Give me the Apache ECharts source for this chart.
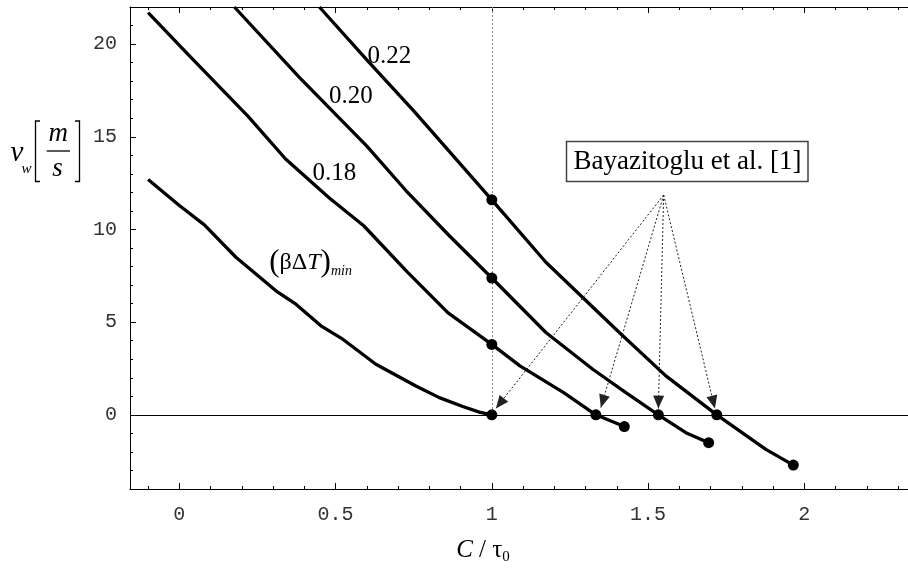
<!DOCTYPE html>
<html>
<head>
<meta charset="utf-8">
<script src="https://cdn.jsdelivr.net/npm/echarts@6/dist/echarts.min.js"></script>
<style>
  html, body { margin: 0; padding: 0; background: #fff; }
  #chart { width: 908px; height: 569px; }
</style>
</head>
<body>
<div id="chart"></div>
<script>
// Axis ranges and tick values
const X_MIN = -0.158, X_MAX = 2.332;
const Y_MIN = -4, Y_MAX = 22;
const xMajorTicks = [0, 0.5, 1, 1.5, 2];
const xMinorTicks = [-0.1, 0.1, 0.2, 0.3, 0.4, 0.6, 0.7, 0.8, 0.9, 1.1, 1.2, 1.3, 1.4, 1.6, 1.7, 1.8, 1.9, 2.1, 2.2, 2.3];
const yMajorTicks = [0, 5, 10, 15, 20];
const yMinorTicks = [-3, -2, -1, 1, 2, 3, 4, 6, 7, 8, 9, 11, 12, 13, 14, 16, 17, 18, 19, 21];

// Wall velocity v_w [m/s] against C/tau0
const curveMin = [[-0.1, 12.69], [0.0, 11.29], [0.08, 10.25], [0.181, 8.5], [0.309, 6.69],
  [0.373, 5.97], [0.453, 4.8], [0.523, 4.08], [0.629, 2.73], [0.757, 1.56], [0.832, 0.93], [0.907, 0.45],
  [0.96, 0.15], [1.0, 0.0]];
const curve018 = [[-0.1, 21.7], [0.03, 19.4], [0.22, 16.1], [0.34, 13.8], [0.48, 11.7], [0.59, 10.2],
  [0.73, 7.7], [0.86, 5.5], [1.0, 3.8], [1.09, 2.64], [1.23, 1.2], [1.333, 0.0], [1.424, -0.63]];
const curve020 = [[0.176, 22.0], [0.384, 18.2], [0.6, 14.5], [0.725, 12.1], [0.864, 9.66], [1.0, 7.38],
  [1.173, 4.44], [1.323, 2.46], [1.429, 1.2], [1.533, 0.0], [1.621, -0.96], [1.694, -1.5]];
const curve022 = [[0.448, 22.0], [0.608, 19.0], [0.75, 16.4], [1.0, 11.6], [1.173, 8.23], [1.408, 4.44],
  [1.557, 2.1], [1.72, 0.0], [1.877, -1.86], [1.965, -2.71]];

// Highlighted solution points
const markedPoints = [[1.0, 11.6], [1.0, 7.38], [1.0, 3.8], [1.0, 0.0], [1.333, 0.0], [1.533, 0.0],
  [1.72, 0.0], [1.424, -0.63], [1.694, -1.5], [1.965, -2.71]];

// Curve labels and where they sit (data units)
const curveLabelText = ['0.22', '0.20', '0.18', '{p|(}{g|βΔ}{t|T}{p|)}{s|min}'];
const curveLabelAt = [[0.672, 19.32], [0.549, 17.16], [0.496, 13.0], [0.42, 8.2]];

// Reference arrows: from below the caption box to the zero-velocity points
const arrowFrom = [1.55, 11.86];
const arrowTo = [[1.013, 0.34], [1.349, 0.39], [1.533, 0.34], [1.714, 0.34]];
const refCaption = 'Bayazitoglu et al. [1]';

const SERIF = '"Liberation Serif", "DejaVu Serif", serif';
const MONO = '"Liberation Mono", "DejaVu Sans Mono", monospace';

const gridBox = { left: 130, right: 0, top: 7, bottom: 80, containLabel: false };

function xAxisDef(grid, position, ticks, len, withLine, labels) {
  return {
    type: 'value', gridIndex: grid, position: position, min: X_MIN, max: X_MAX,
    axisLine: { show: withLine, onZero: false, lineStyle: { color: '#000', width: 1 } },
    axisTick: { show: true, inside: true, length: len, customValues: ticks, lineStyle: { color: '#000', width: 1 } },
    axisLabel: labels ? {
      show: true, customValues: xMajorTicks, margin: 16, fontFamily: MONO, fontSize: 20, color: '#333',
      formatter: v => String(v)
    } : { show: false },
    splitLine: { show: false }
  };
}
function yAxisDef(grid, ticks, len, withLine, labels) {
  return {
    type: 'value', gridIndex: grid, position: 'left', min: Y_MIN, max: Y_MAX,
    axisLine: { show: withLine, onZero: false, lineStyle: { color: '#000', width: 1 } },
    axisTick: { show: true, inside: true, length: len, customValues: ticks, lineStyle: { color: '#000', width: 1 } },
    axisLabel: labels ? {
      show: true, customValues: yMajorTicks, margin: 13, fontFamily: MONO, fontSize: 20, color: '#333',
      formatter: v => String(v)
    } : { show: false },
    splitLine: { show: false }
  };
}

const curveStyle = { color: '#000', width: 3.3, opacity: 1 };
function curveSeries(name, data) {
  return {
    name: name, type: 'line', xAxisIndex: 0, yAxisIndex: 0, data: data,
    showSymbol: false, symbol: 'none', smooth: false, silent: true,
    lineStyle: curveStyle, itemStyle: { color: '#000' }, z: 3
  };
}

const arrowLines = arrowTo.map(t => [
  { coord: arrowFrom, symbol: 'none', lineStyle: { color: '#222', width: 1, type: [2, 2] } },
  { coord: t, symbol: 'triangle', symbolSize: [11, 13], symbolOffset: [0, 6.5] }
]);

// Reference lines: zero axis, dotted guide at C/tau0 = 1 and the arrows
const guideSeries = {
  name: 'guides', type: 'line', xAxisIndex: 0, yAxisIndex: 0, data: [], silent: true, z: 2,
  markLine: {
    silent: true, symbol: ['none', 'none'], animation: false,
    label: { show: false }, emphasis: { disabled: true },
    itemStyle: { color: '#000' },
    data: [
      { yAxis: 0, lineStyle: { color: '#000', width: 1, type: 'solid' } },
      [
        { coord: [1, Y_MAX], lineStyle: { color: '#8a8a8a', width: 1, type: [2, 2] } },
        { coord: [1, 0] }
      ]
    ].concat(arrowLines)
  }
};

const chart = echarts.init(document.getElementById('chart'), null, { renderer: 'canvas' });
chart.setOption({
  animation: false,
  backgroundColor: '#fff',
  grid: [gridBox, Object.assign({}, gridBox)],
  xAxis: [
    xAxisDef(0, 'bottom', xMinorTicks, 3, true, true),
    xAxisDef(0, 'top', xMinorTicks, 3, true, false),
    xAxisDef(1, 'bottom', xMajorTicks, 6, false, false),
    xAxisDef(1, 'top', xMajorTicks, 6, false, false)
  ],
  yAxis: [
    yAxisDef(0, yMinorTicks, 3, true, true),
    yAxisDef(1, yMajorTicks, 6, false, false)
  ],
  series: [
    guideSeries,
    curveSeries('min', curveMin),
    curveSeries('0.18', curve018),
    curveSeries('0.20', curve020),
    curveSeries('0.22', curve022),
    {
      name: 'points', type: 'scatter', xAxisIndex: 0, yAxisIndex: 0, data: markedPoints,
      symbol: 'circle', symbolSize: 11, itemStyle: { color: '#000', opacity: 1 }, silent: true, z: 6
    },
    {
      name: 'labels', type: 'scatter', xAxisIndex: 0, yAxisIndex: 0, symbolSize: 0, silent: true, z: 5,
      itemStyle: { opacity: 1 },
      data: curveLabelText.map((t, i) => ({ value: curveLabelAt[i], label: { formatter: t } })),
      label: {
        show: true, position: 'inside', fontFamily: SERIF, fontSize: 25, color: '#000', opacity: 1,
        rich: {
          p: { fontFamily: SERIF, fontSize: 31, color: '#000' },
          g: { fontFamily: SERIF, fontSize: 24, color: '#000' },
          t: { fontFamily: SERIF, fontSize: 24, fontStyle: 'italic', color: '#000' },
          s: { fontFamily: SERIF, fontSize: 14, fontStyle: 'italic', color: '#000', padding: [16, 0, 0, 0] }
        }
      }
    }
  ],
  graphic: [
    // caption box
    { type: 'rect', shape: { x: 566.5, y: 141.5, width: 241.5, height: 40 },
      style: { fill: '#fff', stroke: '#444', lineWidth: 1.5 }, z: 10 },
    { type: 'text', x: 687.5, y: 162, z: 11,
      style: { text: refCaption, fontFamily: SERIF, fontSize: 27, fill: '#000', align: 'center', verticalAlign: 'middle' } },
    // y-axis title: v_w [m/s]
    { type: 'text', x: 17, y: 153, style: { text: 'v', fontFamily: SERIF, fontStyle: 'italic', fontSize: 29, fill: '#000', align: 'center', verticalAlign: 'middle' } },
    { type: 'text', x: 26.5, y: 169, style: { text: 'w', fontFamily: SERIF, fontStyle: 'italic', fontSize: 15, fill: '#000', align: 'center', verticalAlign: 'middle' } },
    { type: 'polyline', shape: { points: [[40, 121], [35.5, 121], [35.5, 181.5], [40, 181.5]] }, style: { stroke: '#000', lineWidth: 1.3, fill: null } },
    { type: 'polyline', shape: { points: [[75, 121], [79.5, 121], [79.5, 181.5], [75, 181.5]] }, style: { stroke: '#000', lineWidth: 1.3, fill: null } },
    { type: 'text', x: 58.3, y: 134, style: { text: 'm', fontFamily: SERIF, fontStyle: 'italic', fontSize: 27, fill: '#000', align: 'center', verticalAlign: 'middle' } },
    { type: 'line', shape: { x1: 46.7, y1: 151, x2: 70, y2: 151 }, style: { stroke: '#000', lineWidth: 1.3 } },
    { type: 'text', x: 57.5, y: 169, style: { text: 's', fontFamily: SERIF, fontStyle: 'italic', fontSize: 27, fill: '#000', align: 'center', verticalAlign: 'middle' } },
    // x-axis title: C / tau_0
    { type: 'text', x: 483, y: 550,
      style: {
        text: '{c|C}{n| / τ}{s|0}', align: 'center', verticalAlign: 'middle', fill: '#000',
        rich: {
          c: { fontFamily: SERIF, fontStyle: 'italic', fontSize: 25, fill: '#000' },
          n: { fontFamily: SERIF, fontSize: 25, fill: '#000' },
          s: { fontFamily: SERIF, fontSize: 15, fill: '#000', padding: [14, 0, 0, 0] }
        }
      } }
  ]
});
</script>
</body>
</html>
